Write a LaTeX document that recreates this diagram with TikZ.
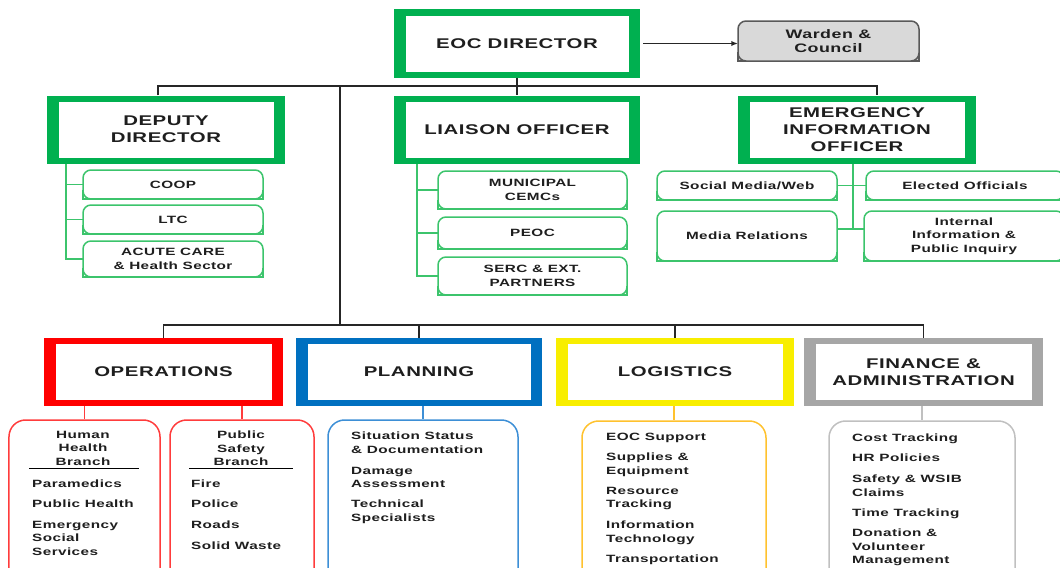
\documentclass[tikz,border=0pt]{standalone}
\usepackage{fontspec}
\setmainfont{Liberation Sans}[FakeStretch=1.45,LetterSpace=4]
\usetikzlibrary{arrows.meta}

\definecolor{eocgreen}{HTML}{00B050}
\definecolor{subgreen}{HTML}{3CC46C}
\definecolor{opsred}{HTML}{FF0000}
\definecolor{opslight}{HTML}{FF3C3C}
\definecolor{planblue}{HTML}{0070C0}
\definecolor{planlight}{HTML}{3D8FD6}
\definecolor{logyellow}{HTML}{F8EE00}
\definecolor{loglight}{HTML}{FFC22E}
\definecolor{fingray}{HTML}{A6A6A6}
\definecolor{finlight}{HTML}{C0C0C0}
\definecolor{wardfill}{HTML}{D9D9D9}
\definecolor{wardline}{HTML}{595959}
\definecolor{inktext}{HTML}{1E1E1E}

\newcommand{\charthead}{\fontsize{12}{14.5}\selectfont\bfseries}
\newcommand{\chartsmall}{\fontsize{9}{11.5}\selectfont\bfseries}

\tikzset{
  headout/.style={fill=#1, minimum height=20.4mm, inner sep=0pt},
  headin/.style={fill=white, minimum height=16.8mm, inner sep=0pt, align=center, text=inktext, font=\charthead},
  flatbase/.style 2 args={append after command={\pgfextra{
      \fill[#2, sharp corners] (\tikzlastnode.south west) rectangle ([xshift=2.5mm,yshift=2.5mm]\tikzlastnode.south west);
      \fill[#2, sharp corners] (\tikzlastnode.south east) rectangle ([xshift=-2.5mm,yshift=2.5mm]\tikzlastnode.south east);
      \draw[#1, line width=0.45mm, line cap=rect, sharp corners]
        ([yshift=2.5mm]\tikzlastnode.south west) -- (\tikzlastnode.south west)
        -- (\tikzlastnode.south east) -- ([yshift=2.5mm]\tikzlastnode.south east);}}},
  subbox/.style={draw=subgreen, line width=0.45mm, rounded corners=2.4mm, outer sep=0pt, inner sep=0pt,
    align=center, text=inktext, font=\chartsmall, flatbase={subgreen}{white}},
  branchbox/.style={draw=#1, line width=0.45mm, rounded corners=5mm, inner sep=0pt, minimum height=60mm},
  item/.style={anchor=north west, inner sep=0pt, align=left, text=inktext, font=\chartsmall},
  bus/.style={line width=0.4mm, draw=black!85},
  spine/.style={line width=0.45mm, draw=subgreen},
  drop/.style={line width=0.45mm, draw=#1},
}

\begin{document}
\begin{tikzpicture}[x=0.3mm, y=-0.3mm]
  \useasboundingbox (0,0) rectangle (1060,567);
  \clip (0,0) rectangle (1060,567);

  % command staff
  \node[headout=eocgreen, minimum width=73.8mm] (eoc) at (517,43.5) {};
  \node[headin, minimum width=66.9mm] (eoctxt) at (eoc) {EOC DIRECTOR};
  \node[draw=wardline, fill=wardfill, line width=0.45mm, rounded corners=2.4mm, outer sep=0pt,
    minimum width=54.3mm, minimum height=12mm, align=center, text=inktext,
    font=\fontsize{10.5}{12}\selectfont\bfseries, flatbase={wardline}{wardfill}] (warden) at (828.5,41) {Warden \&\\Council};

  \node[headout=eocgreen, minimum width=71.4mm] (deputy) at (166,129.5) {};
  \node[headin, minimum width=64.5mm] (deputytxt) at (deputy) {DEPUTY\\DIRECTOR};
  \node[headout=eocgreen, minimum width=73.8mm] (liaison) at (517,129.5) {};
  \node[headin, minimum width=66.9mm] (liaisontxt) at (liaison) {LIAISON OFFICER};
  \node[headout=eocgreen, minimum width=71.4mm] (eio) at (857,129.5) {};
  \node[headin, minimum width=64.5mm] (eiotxt) at (eio) {EMERGENCY\\INFORMATION\\OFFICER};

  % sections
  \node[headout=opsred, minimum width=71.7mm] (ops) at (163.5,372) {};
  \node[headin, minimum width=64.8mm] (opstxt) at (ops) {OPERATIONS};
  \node[headout=planblue, minimum width=73.8mm] (plan) at (419,372) {};
  \node[headin, minimum width=66.9mm] (plantxt) at (plan) {PLANNING};
  \node[headout=logyellow, minimum width=71.4mm] (log) at (675,372) {};
  \node[headin, minimum width=64.5mm] (logtxt) at (log) {LOGISTICS};
  \node[headout=fingray, minimum width=71.7mm] (fin) at (923.5,372) {};
  \node[headin, minimum width=64.8mm] (fintxt) at (fin) {FINANCE \&\\ADMINISTRATION};

  % staff units
  \node[subbox, minimum width=54mm, minimum height=8.7mm] (coop) at (173,184.5) {COOP};
  \node[subbox, minimum width=54mm, minimum height=8.7mm] (ltc) at (173,219.5) {LTC};
  \node[subbox, minimum width=54mm, minimum height=10.8mm] (acute) at (173,259) {ACUTE CARE\\\& Health Sector};
  \node[subbox, minimum width=56.7mm, minimum height=11.4mm] (municipal) at (532.5,190) {MUNICIPAL\\CEMCs};
  \node[subbox, minimum width=56.7mm, minimum height=9.6mm] (peoc) at (532.5,233) {PEOC};
  \node[subbox, minimum width=56.7mm, minimum height=11.4mm] (serc) at (532.5,276) {SERC \& EXT.\\PARTNERS};
  \node[subbox, minimum width=54mm, minimum height=8.7mm] (social) at (747,185.5) {Social Media/Web};
  \node[subbox, minimum width=59.4mm, minimum height=8.7mm] (elected) at (965,185.5) {Elected Officials};
  \node[subbox, minimum width=54mm, minimum height=15mm] (media) at (747,236) {Media Relations};
  \node[subbox, minimum width=60mm, minimum height=15mm] (internal) at (964,236) {Internal\\Information \&\\Public Inquiry};

  % branch boxes
  \node[branchbox=opslight, minimum width=45.3mm] (hhbox) at (84.5,520) {};
  \node[branchbox=opslight, minimum width=43.2mm] (psbox) at (242,520) {};
  \node[branchbox=planlight, minimum width=57mm] (sitbox) at (423,520) {};
  \node[branchbox=loglight, minimum width=55.2mm] (logbox) at (674,521) {};
  \node[branchbox=finlight, minimum width=55.8mm] (finbox) at (922,521) {};

  \node[item, anchor=north, align=center] (hhtitle) at (83,431) {Human\\Health\\Branch};
  \draw[line width=0.3mm] (29,468) -- (139,468);
  \foreach \txt/\ypos [count=\i] in {Paramedics/480, Public Health/500, {Emergency\\Social\\Services}/521}
    \node[item] (hh\i) at (32,\ypos) {\txt};

  \node[item, anchor=north, align=center] (pstitle) at (241,431) {Public\\Safety\\Branch};
  \draw[line width=0.3mm] (189,468) -- (293,468);
  \foreach \txt/\ypos [count=\i] in {Fire/480, Police/500, Roads/521, Solid Waste/542}
    \node[item] (ps\i) at (191,\ypos) {\txt};

  \foreach \txt/\ypos [count=\i] in {{Situation Status\\\& Documentation}/432, {Damage\\Assessment}/467, {Technical\\Specialists}/500}
    \node[item] (sit\i) at (351,\ypos) {\txt};

  \foreach \txt/\ypos [count=\i] in {EOC Support/433, {Supplies \&\\Equipment}/453, {Resource\\Tracking}/487,
      {Information\\Technology}/521, Transportation/555}
    \node[item] (lg\i) at (606,\ypos) {\txt};

  \foreach \txt/\ypos [count=\i] in {Cost Tracking/434, HR Policies/454, {Safety \& WSIB\\Claims}/475,
      Time Tracking/509, {Donation \&\\Volunteer\\Management}/529}
    \node[item] (fn\i) at (852,\ypos) {\txt};

  % connectors
  \coordinate (upbus) at (517,86);
  \coordinate (lowbus) at (340,325);
  \draw[bus] ([xshift=-2.4mm]deputy.north) |- (upbus) -| ([xshift=6mm]eio.north);
  \draw[bus] (eoc.south) -- (liaison.north);
  \draw[bus] (upbus -| lowbus) -- (lowbus);
  \draw[bus] (ops.north) |- (lowbus) -| (fin.north);
  \draw[bus] (plan.north) -- (plan.north |- lowbus);
  \draw[bus] (log.north) -- (log.north |- lowbus);
  \draw[bus, -{Latex[length=2mm,width=1.6mm]}] ([xshift=0.9mm]eoc.east) -- (eoc.east -| warden.west);

  % staff spines
  \coordinate (dspine) at (66,0);
  \draw[spine] (deputy.south -| dspine) |- (acute.west);
  \draw[spine] (coop.west -| dspine) -- (coop.west);
  \draw[spine] (ltc.west -| dspine) -- (ltc.west);
  \coordinate (lspine) at (417,0);
  \draw[spine] (liaison.south -| lspine) |- (serc.west);
  \draw[spine] (municipal.west -| lspine) -- (municipal.west);
  \draw[spine] (peoc.west -| lspine) -- (peoc.west);
  \coordinate (ebranch) at (853,229);
  \draw[spine] (eio.south -| ebranch) -- (ebranch);
  \draw[spine] (social.east) -- (elected.west);
  \draw[spine] (media.east |- ebranch) -- (internal.west |- ebranch);

  % section drops
  \draw[drop=opslight] (ops.south -| hhbox.north) -- (hhbox.north);
  \draw[drop=opslight] (ops.south -| psbox.north) -- (psbox.north);
  \draw[drop=planlight] (plan.south -| sitbox.north) -- (sitbox.north);
  \draw[drop=loglight] (log.south -| logbox.north) -- (logbox.north);
  \draw[drop=finlight] (fin.south -| finbox.north) -- (finbox.north);
\end{tikzpicture}
\end{document}
